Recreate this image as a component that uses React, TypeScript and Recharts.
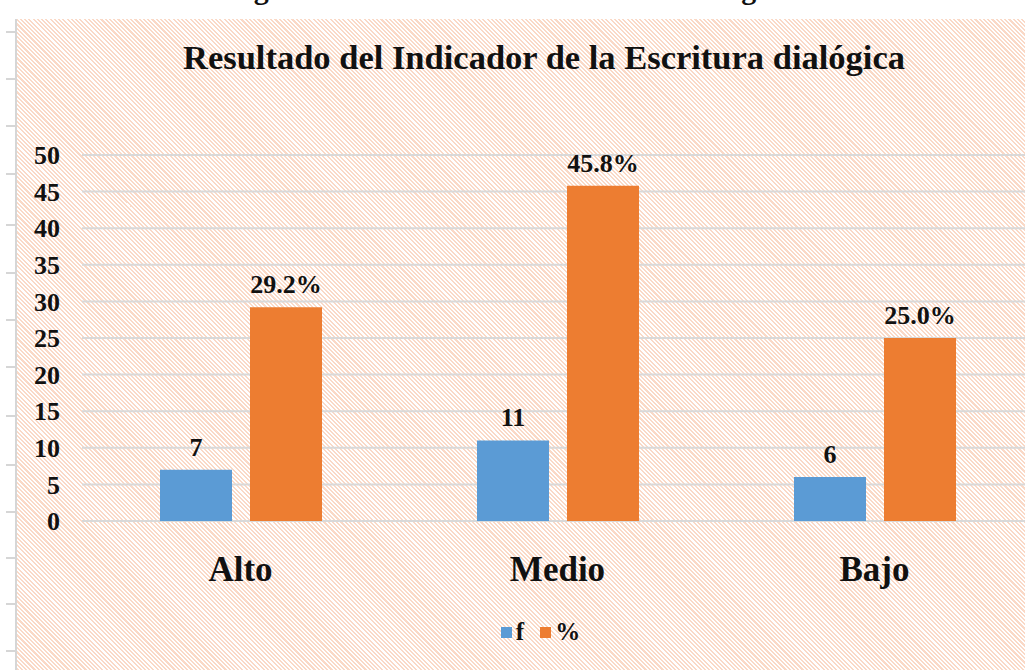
import { BarChart, Bar, XAxis, YAxis, CartesianGrid, Legend, LabelList } from 'recharts'

const categories = ['Alto', 'Medio', 'Bajo']
const freq = [7, 11, 6]
const pct = [29.2, 45.8, 25.0]
const yTicks = [0, 5, 10, 15, 20, 25, 30, 35, 40, 45, 50]
const rulerMarks = [32, 79, 126, 174, 225, 273, 320, 367, 416, 465, 512, 558, 604, 651]

const data = categories.map((name, i) => ({ name, f: freq[i], p: pct[i] }))

const FONT = "'Liberation Serif', 'Times New Roman', serif"
const BLUE = '#5b9bd5'
const ORANGE = '#ed7d31'

const renderLegend = () => (
  <div style={{ display: 'flex', justifyContent: 'center', alignItems: 'center', height: 30, paddingLeft: 26, fontFamily: FONT, fontWeight: 700, fontSize: 25, color: '#111' }}>
    <span style={{ width: 11, height: 11, background: BLUE, display: 'inline-block', marginRight: 4 }} />
    <span style={{ marginRight: 16 }}>f</span>
    <span style={{ width: 11, height: 11, background: ORANGE, display: 'inline-block', marginRight: 4 }} />
    <span>%</span>
  </div>
)

export default function App() {
  return (
    <div style={{ position: 'absolute', left: 0, top: 0, width: 1025, height: 670, overflow: 'hidden', background: '#fff' }}>
      {/* caption cut off by the top of the page */}
      <div style={{ position: 'absolute', left: 0, width: 1020, top: -26, lineHeight: '30px', textAlign: 'center', fontFamily: FONT, fontWeight: 700, fontSize: 30, color: '#111', whiteSpace: 'nowrap' }}>
        Figura 3. Resultado de la escritura dialógica
      </div>
      {/* ruler at the left edge */}
      <div style={{ position: 'absolute', left: 15, top: 19, width: 2, height: 651, background: '#d6d6d6' }} />
      {rulerMarks.map((y) => (
        <div key={y} style={{ position: 'absolute', left: 6, top: y - 1, width: 9, height: 2, background: '#d6d6d6' }} />
      ))}
      {/* hatched chart area */}
      <div
        style={{
          position: 'absolute',
          left: 17,
          top: 19,
          width: 1008,
          height: 651,
          background: 'repeating-linear-gradient(45deg, #fad9c7 0px, #fad9c7 1.5px, #ffffff 1.5px, #ffffff 3px)',
        }}
      />
      <div style={{ position: 'absolute', left: 0, width: 1088, top: 37, lineHeight: '40px', textAlign: 'center', fontFamily: FONT, fontWeight: 700, fontSize: 34.5, color: '#111' }}>
        Resultado del Indicador de la Escritura dialógica
      </div>
      <div style={{ position: 'absolute', left: 0, top: 0 }}>
        <BarChart
          width={1040}
          height={670}
          data={data}
          margin={{ top: 155, right: 7, left: 22, bottom: 23 }}
          barSize={72}
          barGap={18}
        >
          <CartesianGrid vertical={false} stroke="#d9d9d9" strokeWidth={2} />
          <XAxis
            dataKey="name"
            axisLine={false}
            tickLine={false}
            tickSize={0}
            tickMargin={35}
            height={96}
            tick={{ fill: '#111', fontFamily: FONT, fontWeight: 700, fontSize: 35 }}
          />
          <YAxis
            domain={[0, 50]}
            ticks={yTicks}
            interval={0}
            width={60}
            axisLine={false}
            tickLine={false}
            tickSize={0}
            tickMargin={22}
            tick={{ fill: '#111', fontFamily: FONT, fontWeight: 700, fontSize: 26 }}
          />
          <Legend verticalAlign="bottom" content={renderLegend} />
          <Bar dataKey="f" name="f" fill={BLUE} isAnimationActive={false}>
            <LabelList dataKey="f" position="top" offset={14} fill="#111" fontFamily={FONT} fontWeight={700} fontSize={26} style={{ fontFamily: FONT }} />
          </Bar>
          <Bar dataKey="p" name="%" fill={ORANGE} isAnimationActive={false}>
            <LabelList
              dataKey="p"
              position="top"
              offset={14}
              fill="#111"
              fontFamily={FONT}
              fontWeight={700}
              fontSize={26}
              style={{ fontFamily: FONT }}
              formatter={(v: number) => `${Number(v).toFixed(1)}%`}
            />
          </Bar>
        </BarChart>
      </div>
    </div>
  )
}
